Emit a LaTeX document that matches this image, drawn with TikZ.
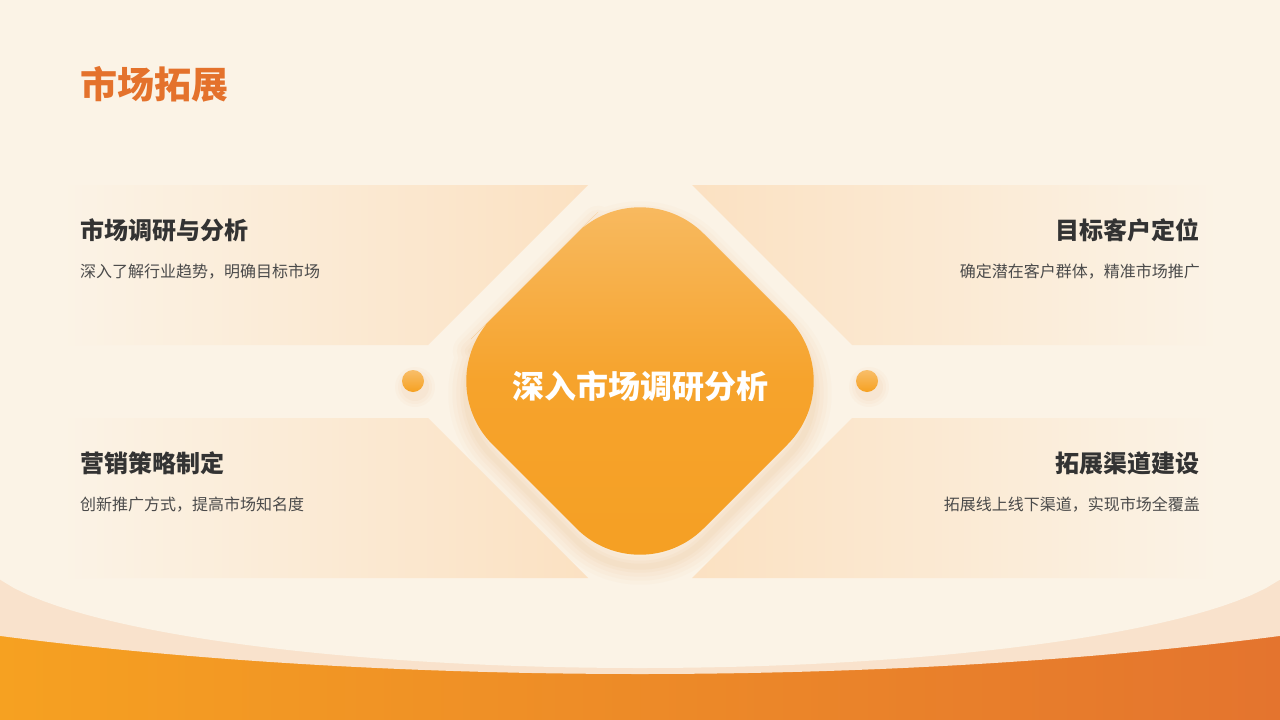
\documentclass[tikz,border=0pt]{standalone}
\usepackage{fontspec}
\newfontfamily\cjk{Noto Sans CJK SC}
\usetikzlibrary{shadings}
\definecolor{bg}{HTML}{FBF3E6}
\definecolor{peach}{HTML}{FBE1C2}
\definecolor{wavepeach}{HTML}{F9E2CC}
\definecolor{orA}{HTML}{F6A121}
\definecolor{orB}{HTML}{E4742E}
\definecolor{titlecol}{HTML}{E4722C}
\definecolor{headcol}{HTML}{333333}
\definecolor{bodycol}{HTML}{4A4A4A}
\definecolor{dmTop}{HTML}{F8BE6A}
\definecolor{dmMid}{HTML}{F6A32C}
\definecolor{dmBot}{HTML}{F59F22}
\definecolor{glow}{HTML}{E9B27A}
\tikzset{
  headtext/.style={inner sep=0pt, font=\cjk\bfseries\fontsize{24}{28}\selectfont, text=headcol},
  bodytext/.style={inner sep=0pt, font=\cjk\fontsize{16}{19}\selectfont, text=bodycol},
  dotstyle/.style={circle, minimum size=22pt, inner sep=0pt, top color=dmTop, bottom color=orA},
}
\begin{document}
\begin{tikzpicture}[x=1pt,y=-1pt]
\useasboundingbox (0,0) rectangle (1280,720);
\fill[bg] (0,0) rectangle (1280,720);
% bottom waves
\shade[left color=orA, right color=orB] (0,560) rectangle (1280,720);
\fill[wavepeach] plot[domain=-640:640, samples=90] ({640+\x}, {427+247*sqrt(1-(\x/1200)^2)}) -- (1280,560) -- (0,560) -- cycle;
\fill[bg] plot[domain=-640:640, samples=90] ({640+\x}, {551+117*sqrt(1-(\x/660)^2)}) -- (1280,560) -- (0,560) -- cycle;
% panels
\shade[left color=bg, right color=peach] (60,185) -- (588,185) -- (428,345) -- (60,345) -- cycle;
\shade[left color=bg, right color=peach] (60,418) -- (428,418) -- (588,578) -- (60,578) -- cycle;
\shade[left color=peach, right color=bg] (692,185) -- (1220,185) -- (1220,345) -- (852,345) -- cycle;
\shade[left color=peach, right color=bg] (852,418) -- (1220,418) -- (1220,578) -- (692,578) -- cycle;
% diamond glow
\foreach \w/\o in {36/0.04,28/0.05,20/0.06,12/0.07,6/0.08}{
  \draw[glow, line width=\w pt, opacity=\o, rounded corners=90pt, line join=round]
    (534.5,287.5) -- (640,182) -- (851,393) -- (640,604) -- (429,393) -- cycle;
}
% dots glow
\foreach \r/\o in {20/0.05,17/0.06,14/0.07}{
  \fill[glow, opacity=\o] (415,387) circle[radius=\r];
  \fill[glow, opacity=\o] (869,387) circle[radius=\r];
}
% diamond
\shade[top color=dmTop, bottom color=dmBot, middle color=dmMid, rounded corners=90pt]
  (534.5,275.5) -- (640,170) -- (851,381) -- (640,592) -- (429,381) -- cycle;
\node[inner sep=0pt, font=\cjk\bfseries\fontsize{32}{36}\selectfont, text=white] (center) at (640,386) {深入市场调研分析};
% dots
\node[dotstyle] (dotL) at (413,381) {};
\node[dotstyle] (dotR) at (867,381) {};
% title
\node[anchor=west, inner sep=0pt, font=\cjk\bfseries\fontsize{37}{42}\selectfont, text=titlecol] (title) at (80,84) {市场拓展};
% left texts
\node[headtext, anchor=west] (h1) at (80,230) {市场调研与分析};
\node[bodytext, anchor=west] (b1) at (80,272) {深入了解行业趋势，明确目标市场};
\node[headtext, anchor=west] (h3) at (80,463) {营销策略制定};
\node[bodytext, anchor=west] (b3) at (80,505) {创新推广方式，提高市场知名度};
% right texts
\node[headtext, anchor=east] (h2) at (1200,230) {目标客户定位};
\node[bodytext, anchor=east] (b2) at (1200,272) {确定潜在客户群体，精准市场推广};
\node[headtext, anchor=east] (h4) at (1200,463) {拓展渠道建设};
\node[bodytext, anchor=east] (b4) at (1200,505) {拓展线上线下渠道，实现市场全覆盖};
\end{tikzpicture}
\end{document}
